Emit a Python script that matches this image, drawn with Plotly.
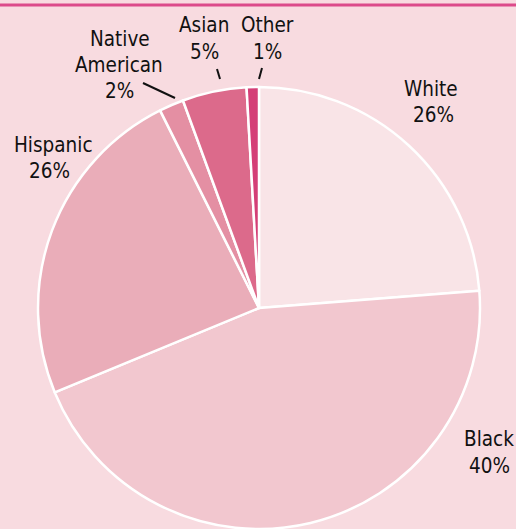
import plotly.graph_objects as go

# Slice order: clockwise from 12 o'clock
categories = ["White", "Black", "Hispanic", "Native American", "Asian", "Other"]
# Shares as drawn in the picture (angular size of each slice)
values = [23.8, 45.1, 23.9, 1.8, 4.7, 0.9]
# Percent labels printed on the chart
pct_labels = ["26%", "40%", "26%", "2%", "5%", "1%"]
colors = ["#f9e4e7", "#f2c7cf", "#eaadb9", "#e48fa3", "#dc6a8b", "#d43f77"]

W, H = 516, 529
BG = "#f8dbe0"
FONT = "DejaVu Sans Condensed, sans-serif"

fig = go.Figure(go.Pie(
    labels=categories,
    values=values,
    sort=False,
    direction="clockwise",
    rotation=0,
    marker=dict(colors=colors, line=dict(color="white", width=2.5)),
    textinfo="none",
    hoverinfo="label+percent",
    showlegend=False,
    domain=dict(x=[0.0039, 1.0], y=[0.0, 442 / 529]),
))

# label layout: (line text or None for the percent, center x px, baseline px)
label_layout = {
    "White": [("White", 431, 97), (None, 433, 123)],
    "Black": [("Black", 489, 447), (None, 489, 474)],
    "Hispanic": [("Hispanic", 53, 153), (None, 49, 179)],
    "Native American": [("Native", 120, 47), ("American", 119, 73), (None, 119, 99)],
    "Asian": [("Asian", 204, 33), (None, 204, 60)],
    "Other": [("Other", 267, 33), (None, 267, 60)],
}

annotations = []
for cat, pct in zip(categories, pct_labels):
    for txt, cx, base in label_layout[cat]:
        annotations.append(dict(
            text=txt if txt is not None else pct,
            x=cx / W, y=1 - (base - 8) / H,
            xref="paper", yref="paper",
            xanchor="center", yanchor="middle",
            showarrow=False,
            font=dict(family=FONT, size=20.5, color="#111111"),
        ))

# leader lines (px)
leaders = [((143, 83), (175, 98)), ((217, 69), (220, 79)), ((262, 68), (259, 79))]
shapes = [dict(type="line", xref="paper", yref="paper",
               x0=0, x1=1, y0=1 - 5 / H, y1=1 - 5 / H,
               line=dict(color="#dc4a8a", width=3))]
for (x0, y0), (x1, y1) in leaders:
    shapes.append(dict(type="line", xref="paper", yref="paper",
                       x0=x0 / W, y0=1 - y0 / H, x1=x1 / W, y1=1 - y1 / H,
                       line=dict(color="#111111", width=2)))

fig.update_layout(
    width=W, height=H,
    margin=dict(l=0, r=0, t=0, b=0),
    paper_bgcolor=BG, plot_bgcolor=BG,
    annotations=annotations,
    shapes=shapes,
)

fig.write_html("out.html")
